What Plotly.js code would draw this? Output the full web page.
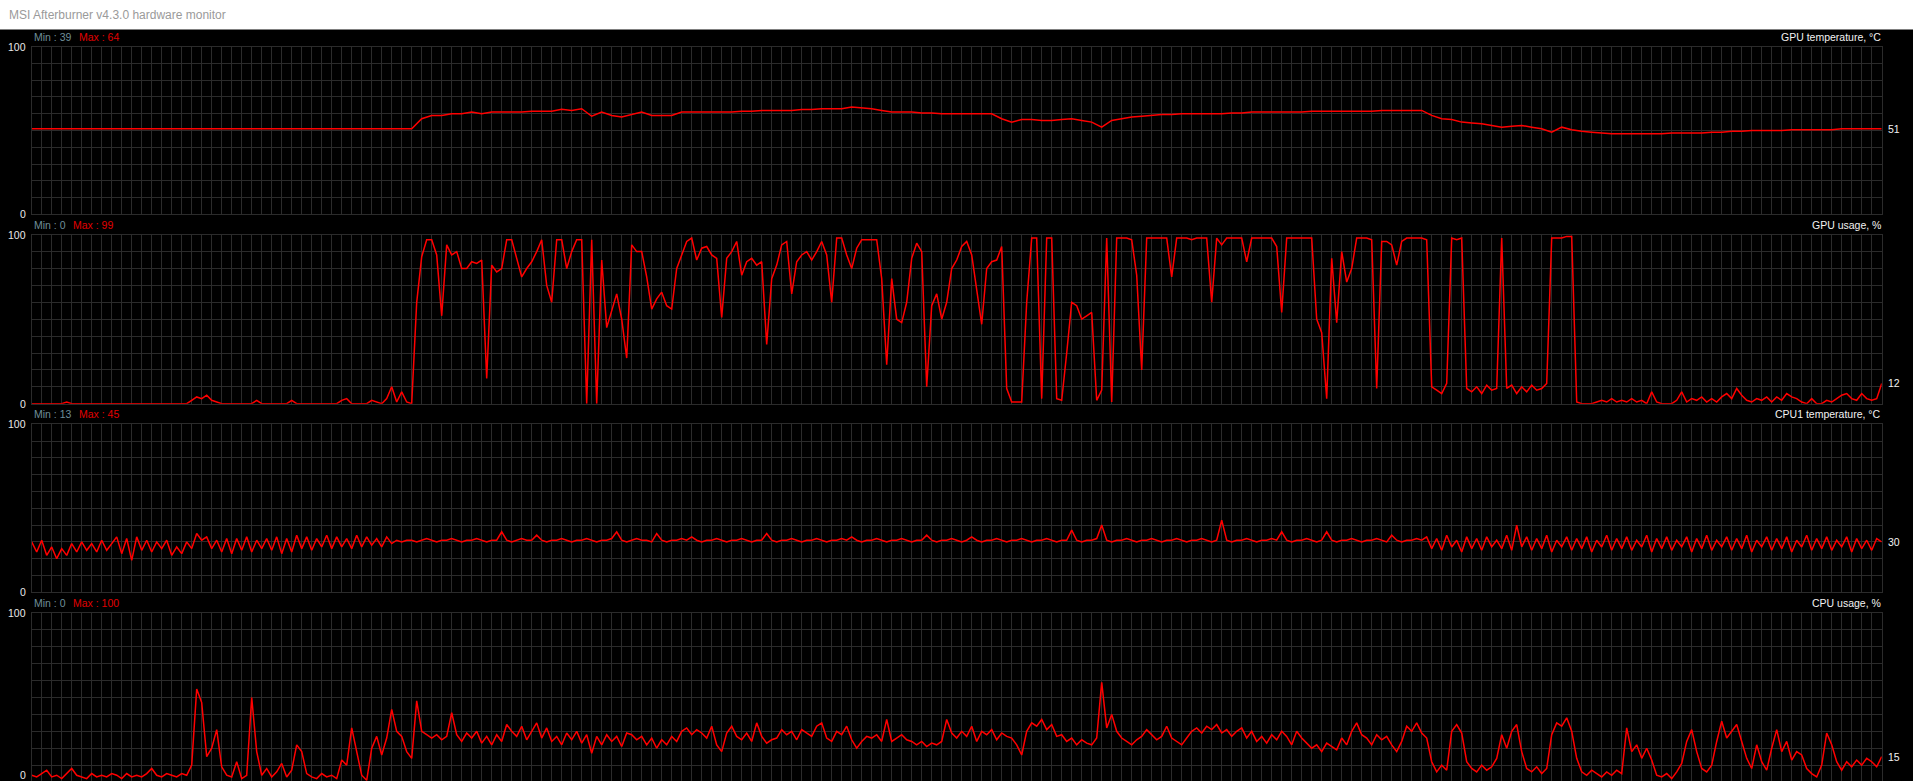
<!DOCTYPE html>
<html><head><meta charset="utf-8">
<script src="https://cdn.plot.ly/plotly-3.0.1.min.js"></script>
<style>html,body{margin:0;padding:0;background:#000;overflow:hidden}</style>
</head><body>
<div id="chart" style="width:1913px;height:781px"></div>
<script>
// ---------------- DATA ----------------
const windowTitle = "MSI Afterburner v4.3.0 hardware monitor";
const seriesNames = ["GPU temperature, °C", "GPU usage, %", "CPU1 temperature, °C", "CPU usage, %"];
const minValues = [39, 0, 13, 0];
const maxValues = [64, 99, 45, 100];
const axisTop = "100";
const axisBottom = "0";

const gpuTemp = [
51,51,51,51,51,51,51,51,51,51,51,51,51,51,51,51,51,51,51,51,51,51,51,51,51,51,51,51,51,51,51,51,51,51,51,51,51,51,51,
57,59,59,60,60,61,60,61,61,61,
61,61.5,61.5,61.5,62.7,62,63,58.5,61,59,
58,59.5,61,59,59,59,61,61,61,61,
61,61,61.5,61.5,62,62,62,62,62.5,62.5,
63,63,63,64,63.5,63,62,61,61,61,
60.5,60.5,60,60,60,60,60,60,57,55,
56.5,56.5,56,56,56.5,57,56,55,52,56,
57,58,58.5,59,59.5,59.5,60,60,60,60,
60,60.5,60.5,61,61,61,61,61,61,61.5,
61.5,61.5,61.5,61.5,61.5,61.5,62,62,62,62,
62,59,57,56.5,55,54.5,54,53,52,52.5,
53,52,51,49,52,50.5,49.5,49,48.5,48,
48,48,48,48,48,48.5,48.5,48.5,48.5,49,
49,49.5,49.5,50,50,50,50,50.5,50.5,50.5,
50.5,50.5,51,51,51,51,51
];

const gpuUsage = [
0,0,0,0,0,0,0,1,0,0,0,0,0,0,0,0,0,0,0,0,0,0,0,0,0,0,0,0,0,0,0,0,
2,4,3,5,2,1,
0,0,0,0,0,0,0,2,0,0,0,0,0,0,2,0,0,0,0,0,0,0,0,0,2,3,0,0,0,0,2,1,0,
3,10,1,7,1,0,
60,87,97,97,88,52,94,88,90,80,
80,84,83,85,15,82,78,80,97,97,
86,75,80,84,90,97,70,60,97,97,
80,90,97,97,0,97,0,85,45,55,
65,50,27,94,90,90,75,56,62,66,
58,56,80,88,96,98,85,92,93,88,
86,51,86,90,96,76,84,86,82,84,
35,74,82,94,96,65,84,88,90,85,
90,96,88,60,98,98,88,80,92,97,
97,97,97,74,23,74,50,48,60,86,
95,90,10,58,65,50,60,80,85,
93,96,88,67,47,80,84,85,93,9,
1,1,1,60,98,98,3,98,98,3,
2,30,60,58,50,52,54,2,8,98,
1,98,98,98,97,76,20,98,98,98,
98,98,75,98,98,98,97,98,98,98,
60,98,94,98,98,98,98,84,98,98,
98,98,98,93,54,98,98,98,98,98,
98,50,42,3,86,48,90,72,80,98,
98,98,97,9,96,96,94,82,96,98,
98,98,98,97,10,8,6,12,98,97,
98,9,7,10,6,11,8,9,98,9,
11,6,10,7,11,8,9,12,98,98,
98,99,99,1,
0,0,0,1,2,1,3,1,2,1,3,1,2,0,7,1,0,0,0,2,7,1,3,2,4,1,3,1,4,6,
3,9,5,2,1,3,2,4,1,4,2,6,4,3,1,0,3,0,0,2,1,3,5,6,3,2,6,3,2,3,12
];

const cpuTemp = [
30,24,31,22,27,20,26,22,29,24,30,25,29,24,31,25,29,33,23,32,
19,33,25,31,24,30,26,31,22,27,23,30,26,35,31,33,26,31,24,32,
23,32,25,33,24,31,26,32,25,33,23,32,24,34,26,33,25,32,27,34,
26,33,27,32,26,34,27,33,28,32,27,33,29,31,30,
31,31,30,31,32,31,30,31,31,32,
31,30,31,31,32,31,30,31,31,36,
31,30,31,32,31,31,34,31,30,31,
31,32,31,30,31,31,32,31,30,31,
31,32,36,31,30,31,32,31,31,30,
35,31,30,31,31,32,31,33,31,30,
31,31,32,31,30,31,31,32,31,30,
31,31,35,31,30,31,31,32,31,30,
31,31,32,31,30,31,31,32,31,33,
31,30,31,31,32,31,30,31,31,32,
31,30,31,31,34,31,30,31,31,32,
31,30,31,33,31,30,31,31,32,31,
30,31,31,32,31,30,31,31,32,31,
30,31,31,37,31,30,31,31,32,40,
31,30,31,31,32,31,30,31,31,32,
31,30,31,31,32,31,30,31,31,32,
31,30,31,43,31,30,31,31,32,31,
30,31,31,32,31,36,31,30,31,31,
32,31,30,31,36,31,30,31,31,32,
31,30,31,31,32,31,30,34,31,30,
31,31,32,31,
33,26,32,25,34,27,31,24,33,26,
32,25,33,27,31,26,34,25,40,27,
33,25,32,26,34,24,31,27,33,25,
32,26,33,24,31,27,34,25,32,26,
33,25,31,27,34,24,32,26,33,25,
31,27,33,24,32,26,34,25,31,27,
33,25,32,26,34,24,31,27,33,25,
32,26,33,24,31,27,34,25,32,26,
33,25,31,27,33,24,32,26,31,25,
32,30
];

const cpuUsage = [
4,3,5,7,3,4,2,5,8,4,3,2,5,3,4,3,5,4,2,5,3,4,3,5,8,4,3,5,4,3,5,4,
10,55,47,15,20,31,9,4,3,12,
2,4,50,18,4,8,3,6,11,3,
7,22,18,5,3,2,5,3,4,2,
13,10,32,18,4,1,20,27,16,26,
43,30,27,18,14,48,30,28,26,28,
25,27,41,28,24,29,26,30,23,27,
22,28,24,34,30,27,33,25,30,35,
26,32,24,27,22,29,25,30,23,28,
17,27,22,28,24,27,21,29,28,25,
27,22,26,20,25,22,27,24,30,32,
28,31,29,26,33,22,18,29,33,27,
25,29,24,35,27,23,25,26,31,28,
30,25,31,29,27,33,35,26,24,30,
28,33,25,20,24,27,26,28,24,37,
24,26,28,25,24,22,24,21,23,22,
24,37,29,26,
30,27,33,24,30,28,31,25,29,27,
26,22,16,30,35,33,37,31,34,27,
28,24,26,22,25,23,22,26,59,32,
40,30,26,24,22,25,27,31,28,25,
27,33,26,24,22,26,30,32,29,33,
31,34,29,31,27,30,32,26,30,24,
27,23,28,25,30,27,22,30,26,23,
20,22,18,23,21,19,26,22,30,35,
28,26,22,28,25,27,22,18,24,33,
30,35,29,26,12,6,10,7,30,34,
29,12,8,6,10,7,9,14,28,20,
30,34,18,8,6,9,5,8,28,35,
33,38,30,14,6,4,7,5,3,6,
4,7,5,32,18,22,14,20,13,4,
3,5,2,6,11,24,31,18,8,6,
10,24,36,26,30,34,24,14,8,22,
12,7,20,31,18,24,13,18,16,8,
5,3,10,29,22,12,7,12,9,13,
10,14,12,9,15
];

const allSeries = [gpuTemp, gpuUsage, cpuTemp, cpuUsage];

// ---------------- LAYOUT ----------------
const W = 1913, H = 781;
const SPAN = 1850;                 // time span shown (samples)
const PL = 31.7, PR = 1881.7;      // plot left/right in px
const TOPS = [46.7, 234.7, 424.3, 613];
const BOTS = [214.3, 403.7, 592.3, 781];
const YRANGES = [[0,100],[0,100],[0,100],[0.6,100]];
const ZERO_LABEL_Y = [214.3, 403.7, 592.3, 775];
const MAXX = [76.7, 70.7, 76.7, 70.7];
const GRID = "#2b2b2b";
const FONT = "Liberation Sans, Arial, sans-serif";
const fx = px => px / W;
const fy = py => 1 - py / H;

const traces = [];
const layout = {
  width: W, height: H,
  margin: {l:0, r:0, t:0, b:0, pad:0},
  paper_bgcolor: "#000000",
  plot_bgcolor: "#000000",
  showlegend: false,
  annotations: [],
  shapes: [
    {type:"rect", xref:"paper", yref:"paper", x0:0, x1:1, y0:fy(29.5), y1:1,
     fillcolor:"#ffffff", line:{width:0}, layer:"above"}
  ]
};

layout.annotations.push({
  xref:"paper", yref:"paper", x:fx(7), y:fy(15), xanchor:"left", yanchor:"middle",
  text: windowTitle, showarrow:false,
  font:{family:FONT, size:12, color:"#9a9a9a"}
});

allSeries.forEach((data, k) => {
  const n = k + 1;
  const xa = "xaxis" + (n === 1 ? "" : n);
  const ya = "yaxis" + (n === 1 ? "" : n);
  const xr = "x" + (n === 1 ? "" : n);
  const yr = "y" + (n === 1 ? "" : n);
  const N = data.length;
  const xs = data.map((_, i) => i * SPAN / (N - 1));
  traces.push({
    x: xs, y: data, xaxis: xr, yaxis: yr, type: "scatter", mode: "lines",
    line: {color:"#ff0000", width:1.5}, hoverinfo:"skip"
  });
  layout[xa] = {
    domain:[fx(PL), fx(PR)], range:[0, SPAN], anchor: yr,
    tick0:0, dtick:10, showgrid:true, gridcolor:GRID, gridwidth:1,
    showticklabels:false, ticks:"", zeroline:false,
    showline:true, linecolor:GRID, linewidth:1, mirror:true, fixedrange:true
  };
  layout[ya] = {
    domain:[Math.max(0, fy(BOTS[k])), fy(TOPS[k])], range: YRANGES[k], anchor: xr,
    tick0:0, dtick:10, showgrid:true, gridcolor:GRID, gridwidth:1,
    showticklabels:false, ticks:"", zeroline:false,
    showline:true, linecolor:GRID, linewidth:1, mirror:true, fixedrange:true
  };
  const T = TOPS[k], B = ZERO_LABEL_Y[k];
  const sm = {family:FONT, size:10.5};
  layout.annotations.push(
    {xref:"paper", yref:"paper", x:fx(27.5), y:fy(T), xanchor:"right", yanchor:"middle",
     text:axisTop, showarrow:false, font:Object.assign({color:"#e8e8e8"}, sm)},
    {xref:"paper", yref:"paper", x:fx(27.5), y:fy(B), xanchor:"right", yanchor:"middle",
     text:axisBottom, showarrow:false, font:Object.assign({color:"#e8e8e8"}, sm)},
    {xref:"paper", yref:"paper", x:fx(PL), y:fy(T - 10), xanchor:"left", yanchor:"middle",
     text:"Min : " + minValues[k], showarrow:false, font:Object.assign({color:"#6f8e99"}, sm)},
    {xref:"paper", yref:"paper", x:fx(MAXX[k]), y:fy(T - 10), xanchor:"left", yanchor:"middle",
     text:"Max : " + maxValues[k], showarrow:false, font:Object.assign({color:"#e00000"}, sm)},
    {xref:"paper", yref:"paper", x:fx(PR + 1), y:fy(T - 10), xanchor:"right", yanchor:"middle",
     text:seriesNames[k], showarrow:false, font:Object.assign({color:"#f2f2f2"}, sm)},
    {xref:"paper", yref:yr, x:fx(1886), y:data[N - 1], xanchor:"left", yanchor:"middle",
     text:String(Math.round(data[N - 1])), showarrow:false, font:Object.assign({color:"#f2f2f2"}, sm)}
  );
});

Plotly.newPlot("chart", traces, layout, {staticPlot:true, displayModeBar:false});
</script>
</body></html>
